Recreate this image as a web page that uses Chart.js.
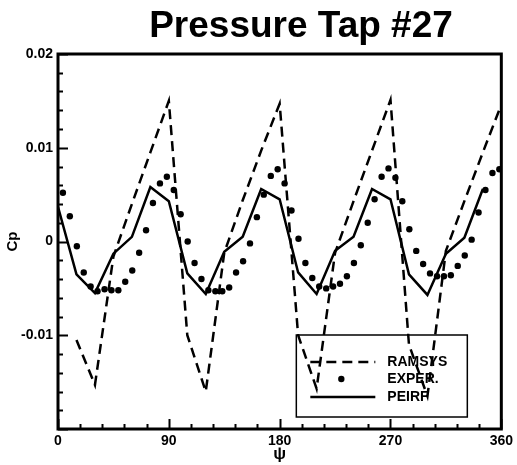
<!DOCTYPE html>
<html>
<head>
<meta charset="utf-8">
<script src="https://cdn.jsdelivr.net/npm/chart.js@4/dist/chart.umd.min.js"></script>
<style>
html,body{margin:0;padding:0;background:#fff;}
canvas{display:block;}
</style>
</head>
<body>
<canvas id="cpChart" width="517" height="465"></canvas>
<script>
// azimuth psi (deg) and Cp for each run
const ramsysPsi=[15,30,45,60,75,90,105,120,135,150,165,180,195,210,225,240,255,270,285,300,315,330,345,360];
const ramsysCp=[-0.0105,-0.0153,-0.0016,0.0040,0.0095,0.0150,-0.0100,-0.0160,-0.0012,0.0044,0.0097,0.0147,
  -0.0100,-0.0157,-0.0012,0.0043,0.0097,0.0151,-0.0110,-0.0165,-0.0010,0.0043,0.0095,0.0146];

const peirfPsi=[0,15,30,45,60,75,90,105,120,135,150,165,180,195,210,225,240,255,270,285,300,315,330,345];
const peirfCp=[0.0037,-0.0035,-0.0055,-0.0013,0.0005,0.0058,0.0043,-0.0034,-0.0056,-0.0011,0.0005,0.0056,0.0045,
  -0.0033,-0.0056,-0.0010,0.0005,0.0056,0.0045,-0.0035,-0.0057,-0.0013,0.0004,0.0056];

const experPsi=[4.0,9.6,15.3,20.9,26.5,32.1,37.8,43.4,49.0,54.6,60.3,65.9,71.5,77.1,82.8,88.4,
  94.0,99.6,105.3,110.9,116.5,122.1,127.8,133.4,139.0,144.6,150.3,155.9,161.5,167.1,172.8,178.4,
  184.0,189.6,195.3,200.9,206.5,212.1,217.8,223.4,229.0,234.6,240.3,245.9,251.5,257.1,262.8,268.4,
  274.0,279.6,285.3,290.9,296.5,302.1,307.8,313.4,319.0,324.6,330.3,335.9,341.5,347.1,352.8,358.4];
const experCp=[0.0052,0.0027,-0.0005,-0.0033,-0.0048,-0.0053,-0.0051,-0.0052,-0.0052,-0.0043,-0.0031,-0.0012,0.0012,0.0041,0.0062,0.0069,
  0.0055,0.0029,0.0000,-0.0023,-0.0040,-0.0052,-0.0053,-0.0053,-0.0049,-0.0033,-0.0021,-0.0002,0.0026,0.0050,0.0070,0.0077,
  0.0062,0.0033,0.0003,-0.0023,-0.0039,-0.0048,-0.0050,-0.0048,-0.0045,-0.0037,-0.0023,-0.0004,0.0020,0.0045,0.0069,0.0078,
  0.0068,0.0043,0.0013,-0.0010,-0.0024,-0.0034,-0.0037,-0.0037,-0.0036,-0.0026,-0.0015,0.0002,0.0031,0.0055,0.0073,0.0077];

const xTicks=[0,90,180,270,360];
const yTicks=[-0.01,0,0.01,0.02];

const FONT="'Liberation Sans',Arial,Helvetica,sans-serif";
const pts=(xs,ys)=>xs.map((v,i)=>({x:v,y:ys[i]}));

// frame, inward ticks, title and boxed legend
const plotDecor={
  id:'plotDecor',
  afterDraw(chart){
    const {ctx,chartArea:a,scales:{x,y}}=chart;
    ctx.save();
    ctx.strokeStyle='#000';
    ctx.lineWidth=3;
    ctx.strokeRect(a.left,a.top,a.right-a.left,a.bottom-a.top);

    ctx.lineWidth=2;
    ctx.beginPath();
    for(let i=0;i<=20;i++){
      const v=-0.02+i*0.002;
      const py=Math.round(y.getPixelForValue(v))+0.5;
      const len=i%5===0?10:5;
      ctx.moveTo(a.left,py);ctx.lineTo(a.left+len,py);
    }
    for(let v=0;v<=360;v+=18){
      const px=Math.round(x.getPixelForValue(v))+0.5;
      const len=v%90===0?10:5;
      ctx.moveTo(px,a.bottom);ctx.lineTo(px,a.bottom-len);
    }
    ctx.stroke();

    // title
    ctx.fillStyle='#000';
    ctx.font="bold 37px "+FONT;
    ctx.textAlign='center';
    ctx.textBaseline='alphabetic';
    ctx.fillText('Pressure Tap #27',301,37);

    // legend box
    const bx=a.right-205,by=a.bottom-94,bw=171,bh=82;
    ctx.lineWidth=1.5;
    ctx.strokeRect(bx,by,bw,bh);
    ctx.font="bold 14px "+FONT;
    ctx.textAlign='left';
    ctx.textBaseline='middle';
    const rowY=[27,44,62];
    chart.data.datasets.forEach((ds,i)=>{
      const ry=by+rowY[i];
      if(ds.showLine){
        ctx.save();
        ctx.lineWidth=ds.borderWidth;
        ctx.setLineDash(ds.borderDash||[]);
        ctx.beginPath();
        ctx.moveTo(bx+14,ry);ctx.lineTo(bx+79,ry);
        ctx.stroke();
        ctx.restore();
      }else{
        ctx.beginPath();
        ctx.arc(bx+45,ry,ds.pointRadius,0,Math.PI*2);
        ctx.fill();
      }
      ctx.fillText(ds.label,bx+91,ry);
    });
    ctx.restore();
  }
};

new Chart(document.getElementById('cpChart'),{
  type:'scatter',
  data:{
    datasets:[
      {label:'RAMSYS',data:pts(ramsysPsi,ramsysCp),showLine:true,borderColor:'#000',borderWidth:2.5,
        borderDash:[10,6],pointRadius:0,tension:0},
      {label:'EXPER.',data:pts(experPsi,experCp),showLine:false,pointRadius:3.2,
        pointBackgroundColor:'#000',pointBorderWidth:0,borderColor:'#000'},
      {label:'PEIRF',data:pts(peirfPsi,peirfCp),showLine:true,borderColor:'#000',borderWidth:2.5,
        pointRadius:0,tension:0}
    ]
  },
  options:{
    responsive:false,
    animation:false,
    layout:{padding:{left:0,top:54,right:14,bottom:0}},
    plugins:{legend:{display:false},tooltip:{enabled:false}},
    scales:{
      x:{
        type:'linear',min:0,max:360,
        afterBuildTicks:s=>{s.ticks=xTicks.map(v=>({value:v}));},
        afterFit:s=>{s.height=36;},
        grid:{display:false,drawTicks:false},
        border:{display:false},
        ticks:{color:'#000',padding:4,maxRotation:0,font:{family:FONT,size:14,weight:'bold'}},
        title:{display:true,text:'ψ',color:'#000',padding:0,font:{family:FONT,size:17,weight:'bold'}}
      },
      y:{
        min:-0.02,max:0.02,
        afterBuildTicks:s=>{s.ticks=yTicks.map(v=>({value:v}));},
        afterFit:s=>{s.width=58;},
        grid:{display:false,drawTicks:false},
        border:{display:false},
        ticks:{color:'#000',padding:5,font:{family:FONT,size:14,weight:'bold'},
          callback:v=>String(Math.round(v*100)/100)},
        title:{display:true,text:'Cp',color:'#000',padding:{top:4},font:{family:FONT,size:15,weight:'bold'}}
      }
    }
  },
  plugins:[plotDecor]
});
</script>
</body>
</html>
